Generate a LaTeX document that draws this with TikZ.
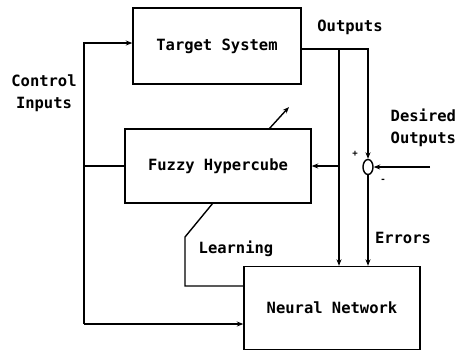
\documentclass[tikz,border=0pt]{standalone}
\usepackage{fontspec}
\setmonofont{DejaVu Sans Mono}
\usetikzlibrary{arrows.meta,shapes.geometric}

\tikzset{
  block/.style={draw, inner sep=0pt, font=\ttfamily\bfseries\fontsize{15.5}{21}\selectfont},
  lbl/.style={font=\ttfamily\bfseries\fontsize{15.5}{22}\selectfont, inner sep=0pt},
  sgn/.style={font=\ttfamily\bfseries\fontsize{9}{10}\selectfont, inner sep=0pt}
}

\begin{document}
\begin{tikzpicture}[x=1pt, y=-1pt, line width=1.4pt, >={Stealth[length=6.5pt,width=5pt]}]
\useasboundingbox (0,0) rectangle (459,351);

% blocks
\node[block, minimum width=168pt, minimum height=76pt] (target) at (217,46) {Target System};
\node[block, minimum width=186pt, minimum height=74pt] (fuzzy) at (218,166) {Fuzzy Hypercube};
\node[block, minimum width=176pt, minimum height=83pt] (neural) at (332,308) {Neural Network};

% summing junction
\node[draw, ellipse, inner sep=0pt, minimum width=10pt, minimum height=15pt] (sum) at (368,167) {};
\node[sgn] (plus) at (355,154) {+};
\node[sgn] (minus) at (383,181) {-};

% branch points
\coordinate (out) at (339,49);
\coordinate (des) at (430,167);
\coordinate (ctltop) at (84,43);
\coordinate (ctlbot) at (84,324);

% outputs
\draw[->] (target.east |- out) -- (sum.north |- out) -- (sum.north);
\draw[->] (out) -- (out |- neural.north);
\draw[->] (out |- fuzzy.east) -- (fuzzy.east);

% desired outputs and errors
\draw[->] (des) -- (sum.east);
\draw[->] (sum.south) -- (sum.south |- neural.north);

% control inputs
\draw[->] (ctlbot) -- (ctltop) -- (target.west |- ctltop);
\draw[->] (ctlbot) -- (neural.west |- ctlbot);
\draw (fuzzy.west) -- (ctltop |- fuzzy.west);

% learning
\coordinate (lrnbot) at (185,286);
\coordinate (knee) at (185,237);
\coordinate (adjin) at (213,203);
\coordinate (adjout) at (269,129);
\coordinate (adjtip) at (289,107);
\draw (neural.west |- lrnbot) -- (lrnbot) -- (knee) -- (adjin);
\draw[->] (adjout) -- (adjtip);

% labels
\node[lbl] (outlbl) at (350,27) {Outputs};
\node[lbl, align=center] (ctllbl) at (44,93) {Control\\Inputs};
\node[lbl, align=left, anchor=west] (deslbl) at (390,128) {Desired\\Outputs};
\node[lbl] (errlbl) at (403,238) {Errors};
\node[lbl] (lrnlbl) at (236,249) {Learning};
\end{tikzpicture}
\end{document}
